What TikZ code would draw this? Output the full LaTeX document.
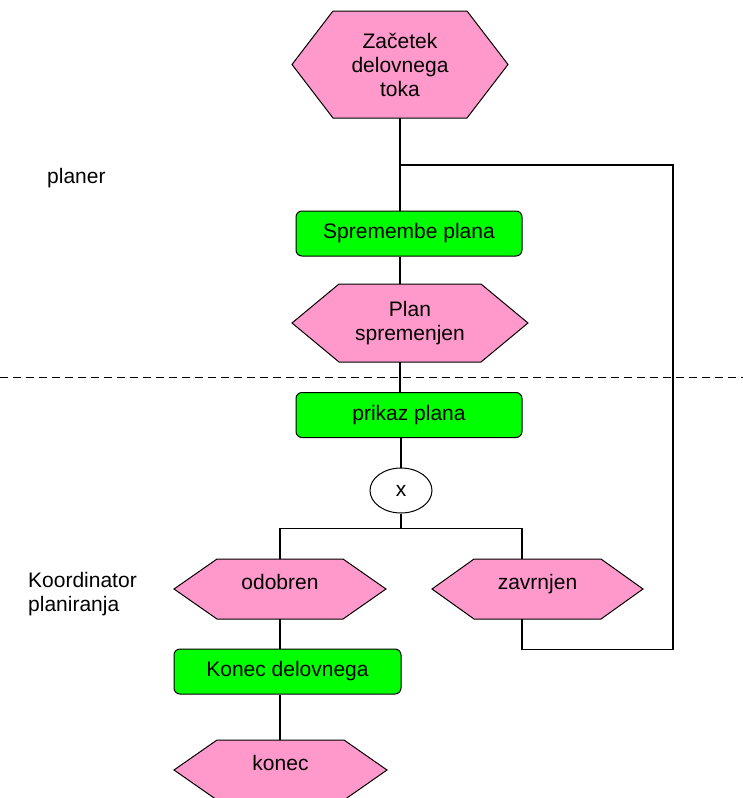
\documentclass[tikz,border=0pt]{standalone}
\usepackage{fontspec}
\setmainfont{Liberation Sans}
\usetikzlibrary{shapes.geometric}
\definecolor{evtpink}{HTML}{FF99CC}
\definecolor{fngreen}{HTML}{00FF00}
\tikzset{
  lbl/.style={font=\fontsize{21}{24}\selectfont, align=center, inner sep=0pt},
  evtedge/.style={draw=black, fill=evtpink, line width=1pt, line join=miter},
  evtbox/.style={lbl, rectangle},
  raised/.style={text height=15pt, text depth=14pt},
  fnbox/.style={lbl, rectangle, rounded corners=6pt, draw=black, fill=fngreen,
                line width=1pt, minimum width=226pt, minimum height=45pt},
  xorbox/.style={lbl, ellipse, draw=black, fill=white, line width=1pt,
                 minimum width=62pt, minimum height=45pt},
  link/.style={draw=black, line width=1.4pt},
  lane/.style={lbl, align=left, anchor=west},
}
% hexagonal event: [node options] name, centre x, centre y, half width, tip depth, half height, text
\newcommand\evtnode[8][]{%
  \path[evtedge] (#3-#5,#4) -- (#3-#5+#6,#4-#7) -- (#3+#5-#6,#4-#7)
    -- (#3+#5,#4) -- (#3+#5-#6,#4+#7) -- (#3-#5+#6,#4+#7) -- cycle;
  \node[evtbox, minimum width=2*#5, minimum height=2*#7, #1] (#2) at (#3,#4) {#8};}
\begin{document}
\begin{tikzpicture}[x=1pt, y=-1pt]
\useasboundingbox (0,0) rectangle (743,798);

% lane separator
\draw[line width=1pt, dash pattern=on 8pt off 5pt] (0,377) -- (743,377);

% lane titles
\node[lane] (lplaner) at (47,178) {planer};
\node[lane] (lkoord) at (28,594) {Koordinator\\planiranja};

% events
\evtnode{start}{400}{64.5}{108}{41}{53.5}{Začetek\\delovnega\\toka}
\evtnode{changed}{410}{323}{118}{47}{39}{Plan\\spremenjen}
\evtnode[raised]{approved}{280}{589}{106}{43}{30}{odobren}
\evtnode[raised]{rejected}{537.5}{589}{105.5}{42}{30}{zavrnjen}
\evtnode[raised]{finish}{280.5}{770}{106.5}{43}{30}{konec}

% functions
\node[fnbox] (f1) at (409,233.5) {Spremembe plana};
\node[fnbox] (f2) at (409,415) {prikaz plana};
\node[fnbox, minimum width=227pt] (f3) at (287.5,671.5) {Konec delovnega};

% XOR connector
\node[xorbox] (xor) at (401,490.5) {x};

% flow
\coordinate (merge) at (400,165);
\draw[link] (start.south) -- (start.south |- f1.north);
\draw[link] (f1.south -| start.south) -- (changed.north -| start.south);
\draw[link] (changed.south -| start.south) -- (f2.north -| start.south);
\draw[link] (f2.south -| xor.north) -- (xor.north);
\draw[link] (xor.south) -- ++(0,15) -| (approved.north);
\draw[link] (xor.south) -- ++(0,15) -| ([xshift=-15.5pt]rejected.north);
\draw[link] (approved.south) -- (approved.south |- f3.north);
\draw[link] (f3.south -| approved.south) -- (finish.north -| approved.south);
\draw[link] ([xshift=-15.5pt]rejected.south) -- ++(0,30) -- ++(151,0) |- (merge);
\end{tikzpicture}
\end{document}
